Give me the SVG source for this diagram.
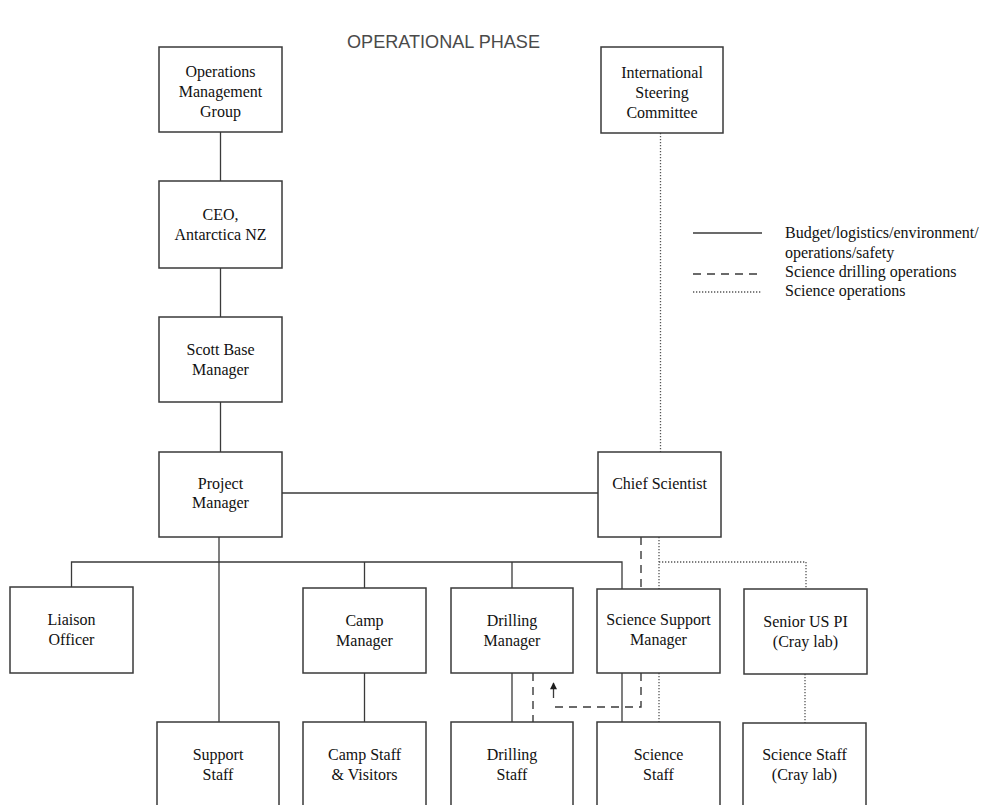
<svg xmlns="http://www.w3.org/2000/svg" width="981" height="805" viewBox="0 0 981 805">
  <style>
    .box { fill: #ffffff; stroke: #3a3a3a; stroke-width: 1.5; }
    .lbl { font-family: "Liberation Serif", "Times New Roman", serif; font-size: 16px; fill: #111111; text-anchor: middle; }
    .leg { font-family: "Liberation Serif", "Times New Roman", serif; font-size: 16px; fill: #111111; }
    .title { font-family: "Liberation Sans", Arial, sans-serif; font-size: 18px; fill: #4a4a4a; }
    .solid { fill: none; stroke: #3a3a3a; stroke-width: 1.3; }
    .dash { fill: none; stroke: #3a3a3a; stroke-width: 1.4; stroke-dasharray: 8 6; }
    .dot { fill: none; stroke: #555555; stroke-width: 1.3; stroke-dasharray: 1.3 1.7; }
  </style>
  <defs>
    <marker id="arrow" viewBox="0 0 10 10" refX="9" refY="5" markerWidth="8" markerHeight="7" markerUnits="userSpaceOnUse" orient="auto">
      <path d="M0 0 L10 5 L0 10 Z" fill="#1e1e1e"/>
    </marker>
  </defs>

  <rect width="981" height="805" fill="#ffffff"/>

  <text class="title" x="347" y="48" textLength="193" lengthAdjust="spacingAndGlyphs">OPERATIONAL PHASE</text>

  <!-- connectors -->
  <g id="connectors">
    <!-- budget / logistics / environment / operations / safety -->
    <path class="solid" d="M220.5 132 V181"/>
    <path class="solid" d="M220.5 268 V317"/>
    <path class="solid" d="M220.5 402 V452"/>
    <path class="solid" d="M282 493 H598"/>
    <path class="solid" d="M219 537 V722"/>
    <path class="solid" d="M71.5 587 V562 H622 V589"/>
    <path class="solid" d="M364.5 562 V588"/>
    <path class="solid" d="M512 562 V588"/>
    <path class="solid" d="M364.5 673 V722"/>
    <path class="solid" d="M512 673 V722"/>
    <path class="solid" d="M622 673 V722"/>
    <!-- science drilling operations -->
    <path class="dash" d="M641 537 V589"/>
    <path class="dash" d="M533 673 V722"/>
    <path class="dash" d="M641 673 V707 H553.5"/>
    <path class="solid" d="M553.5 698 V683" marker-end="url(#arrow)"/>
    <!-- science operations -->
    <path class="dot" d="M660.5 133 V452"/>
    <path class="dot" d="M659 537 V589"/>
    <path class="dot" d="M659 562 H806 V589"/>
    <path class="dot" d="M659 673 V722"/>
    <path class="dot" d="M805 674 V723"/>
  </g>

  <!-- legend -->
  <g id="legend">
    <path class="solid" d="M693 233 H762"/>
    <path class="dash" d="M693 274 H762"/>
    <path class="dot" d="M693 292 H762"/>
    <text class="leg" x="785" y="238">Budget/logistics/environment/</text>
    <text class="leg" x="785" y="258">operations/safety</text>
    <text class="leg" x="785" y="277">Science drilling operations</text>
    <text class="leg" x="785" y="296">Science operations</text>
  </g>

  <!-- nodes -->
  <g id="omg">
    <rect class="box" x="159" y="47" width="123" height="85"/>
    <text class="lbl" x="220.5" y="77">Operations</text>
    <text class="lbl" x="220.5" y="97">Management</text>
    <text class="lbl" x="220.5" y="117">Group</text>
  </g>
  <g id="ceo">
    <rect class="box" x="159" y="181" width="123" height="87"/>
    <text class="lbl" x="220.5" y="220">CEO,</text>
    <text class="lbl" x="220.5" y="240">Antarctica NZ</text>
  </g>
  <g id="scott-base-manager">
    <rect class="box" x="159" y="317" width="123" height="85"/>
    <text class="lbl" x="220.5" y="355">Scott Base</text>
    <text class="lbl" x="220.5" y="375">Manager</text>
  </g>
  <g id="project-manager">
    <rect class="box" x="159" y="452" width="123" height="85"/>
    <text class="lbl" x="220.5" y="489">Project</text>
    <text class="lbl" x="220.5" y="508">Manager</text>
  </g>
  <g id="steering-committee">
    <rect class="box" x="601" y="47" width="122" height="86"/>
    <text class="lbl" x="662" y="78">International</text>
    <text class="lbl" x="662" y="98">Steering</text>
    <text class="lbl" x="662" y="118">Committee</text>
  </g>
  <g id="chief-scientist">
    <rect class="box" x="598" y="452" width="123" height="85"/>
    <text class="lbl" x="659.5" y="489">Chief Scientist</text>
  </g>
  <g id="liaison-officer">
    <rect class="box" x="10" y="587" width="123" height="86"/>
    <text class="lbl" x="71.5" y="625">Liaison</text>
    <text class="lbl" x="71.5" y="645">Officer</text>
  </g>
  <g id="camp-manager">
    <rect class="box" x="303" y="588" width="123" height="85"/>
    <text class="lbl" x="364.5" y="626">Camp</text>
    <text class="lbl" x="364.5" y="646">Manager</text>
  </g>
  <g id="drilling-manager">
    <rect class="box" x="451" y="588" width="122" height="85"/>
    <text class="lbl" x="512" y="626">Drilling</text>
    <text class="lbl" x="512" y="646">Manager</text>
  </g>
  <g id="science-support-manager">
    <rect class="box" x="597" y="589" width="123" height="84"/>
    <text class="lbl" x="658.5" y="625">Science Support</text>
    <text class="lbl" x="658.5" y="645">Manager</text>
  </g>
  <g id="senior-us-pi">
    <rect class="box" x="744" y="589" width="123" height="85"/>
    <text class="lbl" x="805.5" y="627">Senior US PI</text>
    <text class="lbl" x="805.5" y="647">(Cray lab)</text>
  </g>
  <g id="support-staff">
    <rect class="box" x="157" y="722" width="122" height="86"/>
    <text class="lbl" x="218" y="760">Support</text>
    <text class="lbl" x="218" y="780">Staff</text>
  </g>
  <g id="camp-staff">
    <rect class="box" x="303" y="722" width="123" height="86"/>
    <text class="lbl" x="364.5" y="760">Camp Staff</text>
    <text class="lbl" x="364.5" y="780">&amp; Visitors</text>
  </g>
  <g id="drilling-staff">
    <rect class="box" x="451" y="722" width="122" height="86"/>
    <text class="lbl" x="512" y="760">Drilling</text>
    <text class="lbl" x="512" y="780">Staff</text>
  </g>
  <g id="science-staff">
    <rect class="box" x="597" y="722" width="123" height="86"/>
    <text class="lbl" x="658.5" y="760">Science</text>
    <text class="lbl" x="658.5" y="780">Staff</text>
  </g>
  <g id="science-staff-cray">
    <rect class="box" x="743" y="723" width="123" height="86"/>
    <text class="lbl" x="804.5" y="760">Science Staff</text>
    <text class="lbl" x="804.5" y="780">(Cray lab)</text>
  </g>
</svg>
